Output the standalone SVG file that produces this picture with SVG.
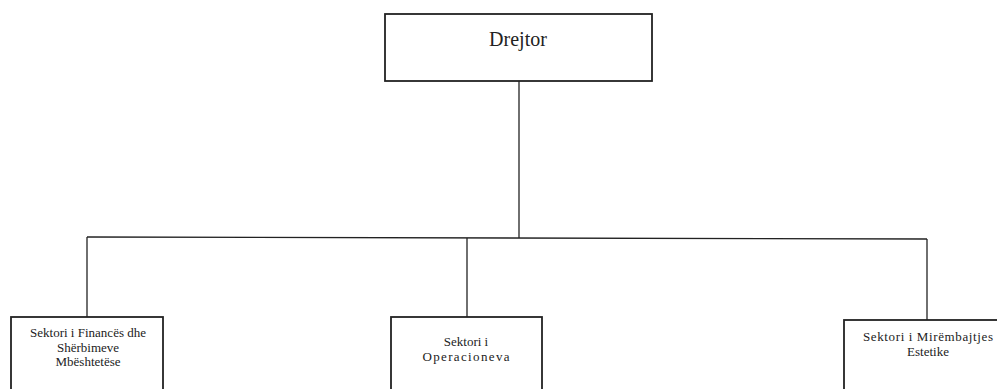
<svg xmlns="http://www.w3.org/2000/svg" width="997" height="389" viewBox="0 0 997 389">
<style>
.box{fill:#fff;stroke:#222;stroke-width:1.8}
.ln{fill:none;stroke:#222;stroke-width:1.3}
text{font-family:"Liberation Serif","Times New Roman",serif;fill:#222;text-anchor:middle}
.s{font-size:13px}
</style>
<rect width="997" height="389" fill="#fff"/>
<g id="connectors">
<line class="ln" x1="519" y1="81" x2="519" y2="238"/>
<line class="ln" x1="87" y1="237" x2="927" y2="239"/>
<line class="ln" x1="87" y1="237" x2="87" y2="317"/>
<line class="ln" x1="467" y1="238" x2="467" y2="317"/>
<line class="ln" x1="927" y1="239" x2="927" y2="320"/>
</g>
<g id="drejtor">
<rect class="box" x="385" y="14" width="267" height="67"/>
<text x="518" y="46" font-size="20" font-family="Liberation Serif, serif">Drejtor</text>
</g>
<g id="financa">
<rect class="box" x="11" y="317" width="152" height="80"/>
<text class="s" x="88" y="337" textLength="116" font-family="Liberation Serif, serif">Sektori i Financës dhe</text>
<text class="s" x="88" y="352" font-family="Liberation Serif, serif">Shërbimeve</text>
<text class="s" x="88" y="366" font-family="Liberation Serif, serif">Mbështetëse</text>
</g>
<g id="operacione">
<rect class="box" x="391" y="317" width="151" height="80"/>
<text class="s" x="466" y="346" font-family="Liberation Serif, serif">Sektori i</text>
<text class="s" x="466" y="361" textLength="87" font-family="Liberation Serif, serif">Operacioneva</text>
</g>
<g id="mirembajtje">
<rect class="box" x="844" y="320" width="170" height="80"/>
<text class="s" x="928" y="341" textLength="130" font-family="Liberation Serif, serif">Sektori i Mirëmbajtjes</text>
<text class="s" x="928" y="356" font-family="Liberation Serif, serif">Estetike</text>
</g>
</svg>
